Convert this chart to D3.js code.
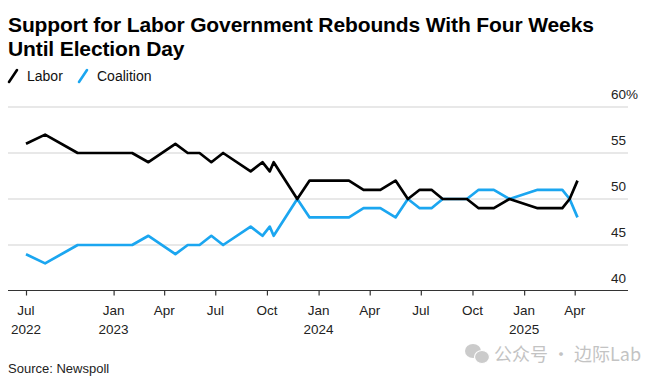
<!DOCTYPE html>
<html><head><meta charset="utf-8">
<script src="https://cdn.jsdelivr.net/npm/d3@7"></script>
<style>
body{margin:0;background:#fff}
svg{display:block;font-family:"Liberation Sans",Arial,Helvetica,sans-serif}
</style>
</head><body>
<svg id="c" width="660" height="385"></svg>
<script>
// ---- data (Newspoll two-party preferred, %) ----
const pollDates = ["2022-07-29","2022-09-01","2022-10-29","2023-02-03","2023-03-04","2023-04-21","2023-05-13","2023-06-03","2023-06-24","2023-07-15","2023-09-02","2023-09-23","2023-10-06","2023-10-13","2023-11-24","2023-12-16","2024-02-24","2024-03-21","2024-04-20","2024-05-17","2024-06-08","2024-06-29","2024-07-20","2024-08-09","2024-09-21","2024-10-12","2024-11-08","2024-12-06","2025-01-25","2025-03-10","2025-03-23","2025-04-06"];
const labor     = [56,57,55,55,54,56,55,55,54,55,53,54,53,54,50,52,52,51,51,52,50,51,51,50,50,49,49,50,49,49,50,52];
const coalition = [44,43,45,45,46,44,45,45,46,45,47,46,47,46,50,48,48,49,49,48,50,49,49,50,50,51,51,50,51,51,50,48];
const seriesNames = ["Labor","Coalition"];
const yTicks = [40,45,50,55,60];
const xTickDates = ["2022-07-29","2023-01-01","2023-04-01","2023-07-01","2023-10-01","2024-01-01","2024-04-01","2024-07-01","2024-10-01","2025-01-01","2025-04-01"];
const xTickMonths = ["Jul","Jan","Apr","Jul","Oct","Jan","Apr","Jul","Oct","Jan","Apr"];
const xTickYears  = ["2022","2023","","","","2024","","","","2025",""];
const titleLines = ["Support for Labor Government Rebounds With Four Weeks","Until Election Day"];
const sourceText = "Source: Newspoll";
const watermark = "公众号 · 边际Lab";

// ---- layout ----
const colors = {Labor:"#000000", Coalition:"#1ba6f0"};
const parse = d3.utcParse("%Y-%m-%d");
const dates = pollDates.map(parse);
const svg = d3.select("#c");

const x = d3.scaleUtc().domain([dates[0], dates[dates.length-1]]).range([26, 577.5]);
const y = d3.scaleLinear().domain([40,60]).range([291,107]);
const gridLeft = 8, gridRight = 628;

// title
svg.append("g").selectAll("text").data(titleLines).join("text")
  .attr("x",8).attr("y",(d,i)=>32+i*24)
  .attr("font-size",21).attr("font-weight","bold").attr("fill","#000")
  .attr("letter-spacing",-0.12)
  .text(d=>d);

// legend
const leg = svg.append("g");
const legX = [8, 78];
seriesNames.forEach((n,i)=>{
  leg.append("line").attr("x1",legX[i]+1).attr("y1",82).attr("x2",legX[i]+9).attr("y2",70)
    .attr("stroke",colors[n]).attr("stroke-width",2.6).attr("stroke-linecap","round");
  leg.append("text").attr("x",legX[i]+19).attr("y",81).attr("font-size",14).attr("fill","#111").text(n);
});

// grid
svg.append("g").selectAll("line").data(yTicks.filter(t=>t>40)).join("line")
  .attr("x1",gridLeft).attr("x2",gridRight)
  .attr("y1",d=>y(d)).attr("y2",d=>y(d))
  .attr("stroke","#e1e1e1").attr("stroke-width",1.3);

// y labels
svg.append("g").selectAll("text").data(yTicks).join("text")
  .attr("x",611).attr("y",d=>y(d)-8.5)
  .attr("font-size",13.5).attr("fill","#222")
  .text(d=>d===60? d+"%" : d);

// x axis
const xAxis = d3.axisBottom(x)
  .tickValues(xTickDates.map(parse))
  .tickSize(5).tickFormat("");
const ax = svg.append("g").attr("transform",`translate(0,${y(40)-0.5})`).call(xAxis);
ax.select(".domain").attr("d",`M${gridLeft},0H${gridRight}`).attr("stroke","#333").attr("stroke-width",1.2);
ax.selectAll(".tick line").attr("stroke","#333").attr("stroke-width",1.2);
const tl = svg.append("g");
xTickDates.forEach((d,i)=>{
  const xx = x(parse(d));
  tl.append("text").attr("x",xx).attr("y",315).attr("text-anchor","middle").attr("font-size",13.5).attr("fill","#222").text(xTickMonths[i]);
  if(xTickYears[i]) tl.append("text").attr("x",xx).attr("y",334).attr("text-anchor","middle").attr("font-size",13.5).attr("fill","#222").text(xTickYears[i]);
});

// lines
const line = d3.line().x((d,i)=>x(dates[i])).y(d=>y(d)).curve(d3.curveLinear);
[["Coalition",coalition],["Labor",labor]].forEach(([n,vals])=>{
  svg.append("path").datum(vals).attr("d",line).attr("fill","none")
    .attr("stroke",colors[n]).attr("stroke-width",2.7)
    .attr("stroke-linejoin","round").attr("stroke-linecap","butt");
});

// source
svg.append("text").attr("x",8).attr("y",373).attr("font-size",13).attr("fill","#222").text(sourceText);

// watermark
const wm = svg.append("g").attr("opacity",0.5);
wm.append("ellipse").attr("cx",473).attr("cy",351).attr("rx",8).attr("ry",7).attr("fill","#999");
wm.append("ellipse").attr("cx",482).attr("cy",357).attr("rx",7.5).attr("ry",6.5).attr("fill","#999").attr("stroke","#fff").attr("stroke-width",1.2);
wm.append("text").attr("x",494).attr("y",361).attr("font-size",18)
  .attr("font-family","'Noto Sans CJK SC',sans-serif").attr("fill","#888").text(watermark);
</script>
</body></html>
